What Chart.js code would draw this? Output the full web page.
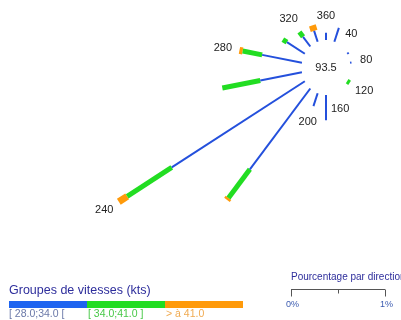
<!DOCTYPE html>
<html lang="fr">
<head>
<meta charset="utf-8">
<title>Rose des vents</title>
<script src="https://cdn.jsdelivr.net/npm/chart.js@4/dist/chart.umd.min.js"></script>
<style>
html,body{margin:0;padding:0;background:#fff;overflow:hidden;width:401px;height:320px;}
#wrap{position:relative;width:401px;height:320px;overflow:hidden;}
#rose{position:absolute;left:0;top:0;}
.legend-title{position:absolute;left:9px;top:283px;font:12.5px "Liberation Sans",Arial,sans-serif;color:#2e2e9c;white-space:nowrap;line-height:14px;}
.swatch{position:absolute;top:301px;height:7px;}
.cls{position:absolute;top:308px;font:10.5px "Liberation Sans",Arial,sans-serif;white-space:nowrap;line-height:11px;}
.scale-title{position:absolute;left:291px;top:271px;font:10px "Liberation Sans",Arial,sans-serif;color:#2e2e9c;white-space:nowrap;line-height:11px;}
</style>
</head>
<body>
<div id="wrap">
<canvas id="rose" width="401" height="320"></canvas>
<div class="legend-title">Groupes de vitesses (kts)</div>
<div id="groups"></div>
<div class="scale-title">Pourcentage par direction</div>
</div>
<script>
// Sector directions (degrees from north, clockwise), one every 20°
const directions = [0, 20, 40, 60, 80, 100, 120, 140, 160, 180, 200, 220, 240, 260, 280, 300, 320, 340];
// Frequency (%) per direction for each speed group
const pct28to34 = [0.07, 0.14, 0, 0.02, 0.015, 0, 0, 0, 0, 0.24, 0.13, 1.00, 1.635, 0.45, 0.43, 0.22, 0.12, 0.11];
const pct34to41 = [0, 0, 0, 0, 0, 0, 0.03, 0, 0, 0, 0, 0.354, 0.547, 0.41, 0.21, 0.05, 0.06, 0];
const pctOver41 = [0, 0, 0, 0, 0, 0, 0, 0, 0, 0, 0, 0.025, 0.103, 0, 0.035, 0, 0, 0.055];
// Speed group names
const groupLabels = ['[ 28.0;34.0 [', '[ 34.0;41.0 ]', '> à 41.0'];
// Directions that get a label
const labelDirections = [40, 80, 120, 160, 200, 240, 280, 320, 360];
// Calm percentage written in the middle
const calmPct = 93.5;
// Scale legend ticks (%)
const scaleTicks = [0, 0.5, 1];
const scaleTickLabels = ['0%', '', '1%'];

// ---- styling / layout ----
const groups = [pct28to34, pct34to41, pctOver41];
const groupColors = ['#2450dc', '#22dd22', '#ff9a0a'];
const swatchColors = ['#1e64f0', '#22dd22', '#ff9a0a'];
const groupTextColors = ['#6a78a8', '#48c848', '#f0aa50'];
const groupWidths = [2, 5, 7];
const W = 401, H = 320;
const CX = 326, CY = 67.5;        // rose centre, px
const PX_X = 94, PX_Y = 105.5;    // px per 1 % horizontally / vertically
const CALM_R = 0.26;              // radius of the calm disc, in %
const LABEL_GAP = 0.12;

// Radial segments: one line per direction and speed group, stacked outward
const datasets = [];
directions.forEach((d, i) => {
  const a = d * Math.PI / 180;
  let r = CALM_R;
  groups.forEach((g, k) => {
    const v = g[i];
    if (v <= 0) return;
    datasets.push({
      data: [
        { x: r * Math.sin(a), y: r * Math.cos(a) },
        { x: (r + v) * Math.sin(a), y: (r + v) * Math.cos(a) }
      ],
      showLine: true,
      borderColor: groupColors[k],
      backgroundColor: groupColors[k],
      borderWidth: groupWidths[k],
      borderCapStyle: 'butt',
      pointRadius: 0,
      pointHoverRadius: 0,
      fill: false,
      order: k
    });
    r += v;
  });
});

const roseLabels = {
  id: 'roseLabels',
  afterDatasetsDraw(chart) {
    const { ctx, scales: { x, y } } = chart;
    const at = (r, a) => ({ x: x.getPixelForValue(r * Math.sin(a)), y: y.getPixelForValue(r * Math.cos(a)) });
    ctx.save();
    ctx.font = '11px "Liberation Sans", Arial, sans-serif';
    ctx.fillStyle = '#222';
    ctx.textAlign = 'center';
    ctx.textBaseline = 'middle';
    const c = at(0, 0);
    ctx.fillText(calmPct.toFixed(1), c.x, c.y + 0.5);
    labelDirections.forEach(d => {
      const i = directions.indexOf(d % 360);
      const a = d * Math.PI / 180;
      const end = CALM_R + groups.reduce((s, g) => s + g[i], 0);
      const p = at(end + LABEL_GAP, a);
      const txt = String(d);
      const w = ctx.measureText(txt).width;
      ctx.fillText(txt, p.x + Math.sin(a) * w * 0.3, p.y - Math.cos(a) * 4);
    });

    // Percentage scale bar
    const x0 = 291, yBar = 289.5;
    const unit = x.getPixelForValue(1) - x.getPixelForValue(0);
    ctx.strokeStyle = '#555';
    ctx.lineWidth = 1;
    ctx.beginPath();
    ctx.moveTo(x0, yBar);
    ctx.lineTo(x0 + unit * scaleTicks[scaleTicks.length - 1], yBar);
    scaleTicks.forEach((t, k) => {
      const tx = Math.round(x0 + unit * t) + 0.5;
      const len = (k === 0 || k === scaleTicks.length - 1) ? 7 : 4;
      ctx.moveTo(tx, yBar);
      ctx.lineTo(tx, yBar + len);
    });
    ctx.stroke();
    ctx.font = '9px "Liberation Sans", Arial, sans-serif';
    ctx.fillStyle = '#3a5ab0';
    scaleTicks.forEach((t, k) => {
      if (scaleTickLabels[k]) ctx.fillText(scaleTickLabels[k], x0 + unit * t + 1.5, 305);
    });
    ctx.restore();
  }
};

new Chart(document.getElementById('rose'), {
  type: 'scatter',
  data: { datasets },
  options: {
    responsive: false,
    animation: false,
    devicePixelRatio: 1,
    layout: { padding: 0 },
    events: [],
    scales: {
      x: { type: 'linear', display: false, min: -CX / PX_X, max: (W - CX) / PX_X },
      y: { type: 'linear', display: false, min: -(H - CY) / PX_Y, max: CY / PX_Y }
    },
    plugins: { legend: { display: false }, tooltip: { enabled: false } }
  },
  plugins: [roseLabels]
});

// Speed group legend
const groupBox = document.getElementById('groups');
groupLabels.forEach((lbl, k) => {
  const sw = document.createElement('div');
  sw.className = 'swatch';
  sw.style.left = (9 + k * 78) + 'px';
  sw.style.width = '78px';
  sw.style.background = swatchColors[k];
  groupBox.appendChild(sw);
  const t = document.createElement('div');
  t.className = 'cls';
  t.style.left = (9 + k * 78 + (k ? 1 : 0)) + 'px';
  t.style.color = groupTextColors[k];
  t.textContent = lbl;
  groupBox.appendChild(t);
});
</script>
</body>
</html>
